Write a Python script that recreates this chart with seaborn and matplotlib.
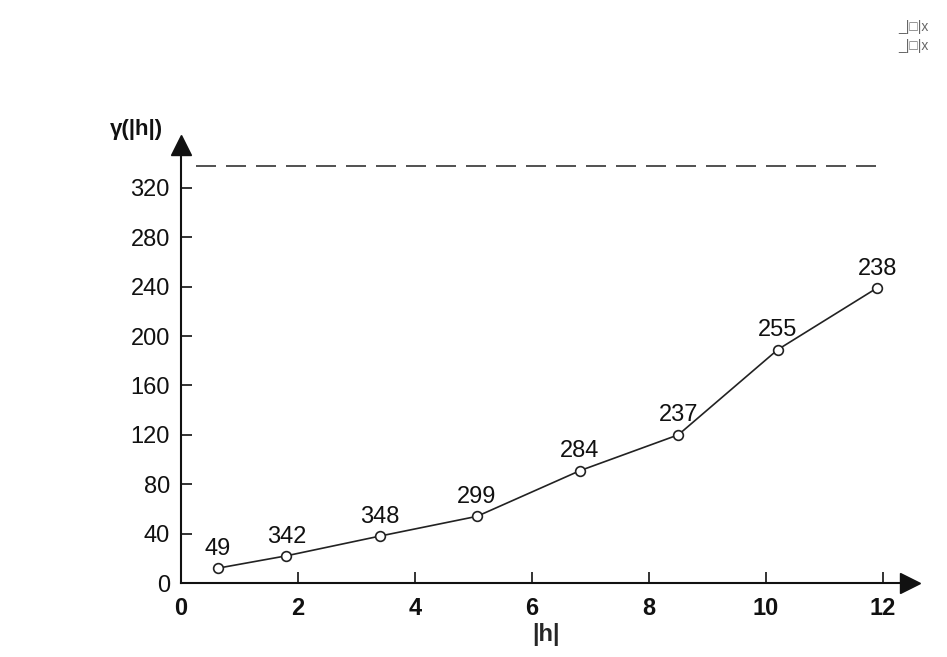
import pandas as pd
import matplotlib.pyplot as plt
import seaborn as sns

lag = [0.63, 1.8, 3.4, 5.06, 6.82, 8.5, 10.2, 11.9]
gamma = [12, 22, 38, 54, 91, 120, 189, 239]
pairs = ["49", "342", "348", "299", "284", "237", "255", "238"]
sill = 338

x_ticks = [0, 2, 4, 6, 8, 10, 12]
y_ticks = [0, 40, 80, 120, 160, 200, 240, 280, 320]

df = pd.DataFrame({"lag": lag, "gamma": gamma, "pairs": pairs})

sns.set_style("white")
plt.rcParams['font.family'] = ['Liberation Sans', 'DejaVu Sans']

fig = plt.figure(figsize=(9.47, 6.57), dpi=100)
ax = fig.add_axes([181 / 947, 74 / 657, 729 / 947, 438 / 657])

sns.lineplot(x="lag", y="gamma", data=df, ax=ax, color="#222222", linewidth=1.2,
             marker="o", markersize=7, markerfacecolor="white",
             markeredgecolor="#222222", markeredgewidth=1.2)

for _, row in df.iterrows():
    ax.annotate(row["pairs"], (row["lag"], row["gamma"]), xytext=(0, 6),
                textcoords="offset points", ha="center", va="bottom",
                fontsize=17, color="#111111")

# sill
ax.plot([0.25, 12], [sill, sill], color="#333333", linewidth=1.2,
        dashes=(12, 6))

ax.set_xlim(0, 12.46)
ax.set_ylim(0, 354.7)
ax.set_xticks(x_ticks)
ax.set_yticks(y_ticks)
ax.set_xticklabels([str(v) for v in x_ticks], fontsize=17, fontweight="bold")
ax.set_yticklabels([str(v) for v in y_ticks], fontsize=17)
ax.tick_params(axis="both", direction="in", length=8, width=1.2, colors="#111111",
               bottom=True, left=True)
ax.tick_params(axis="x", pad=10)
ax.tick_params(axis="y", pad=8)

for s in ["top", "right"]:
    ax.spines[s].set_visible(False)
for s in ["left", "bottom"]:
    ax.spines[s].set_linewidth(1.5)
    ax.spines[s].set_color("#111111")

# axis arrowheads
ax.plot(1, 0, ">", transform=ax.transAxes, clip_on=False, color="#111111",
        markersize=14)
ax.plot(0, 1, "^", transform=ax.transAxes, clip_on=False, color="#111111",
        markersize=14)

ax.set_xlabel("|h|", fontsize=17, fontweight="bold", labelpad=2)
ax.set_ylabel("")
fig.text(110 / 947, 1 - 130 / 657, "γ(|h|)", fontsize=16, fontweight="bold",
         ha="left", va="center", color="#111111")

# window chrome remnants of the screenshot
fig.text(0.965, 1 - 27 / 657, "_|□|x", fontsize=10, color="#666666", ha="center", va="center")
fig.text(0.965, 1 - 46 / 657, "_|□|x", fontsize=10, color="#666666", ha="center", va="center")

plt.savefig("out.png", dpi=100)
